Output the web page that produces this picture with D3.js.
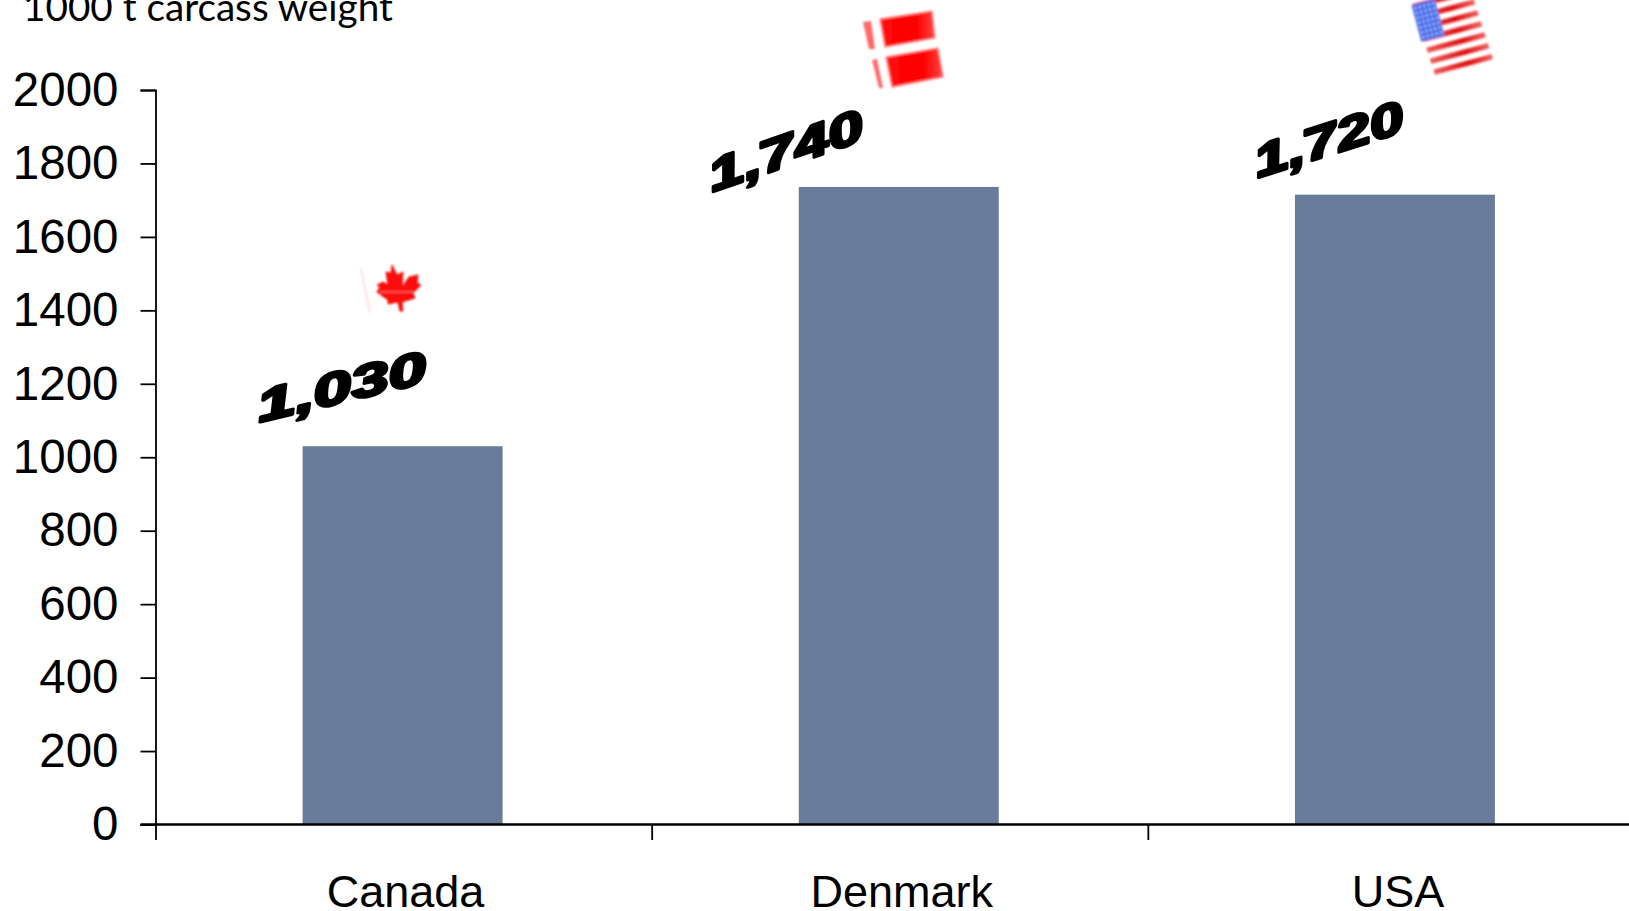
<!DOCTYPE html>
<html>
<head>
<meta charset="utf-8">
<script src="https://cdn.jsdelivr.net/npm/d3@7/dist/d3.min.js"></script>
<style>
html, body { margin: 0; padding: 0; background: #fff; overflow: hidden; }
svg { display: block; }
</style>
</head>
<body>
<svg></svg>
<script>
var width = 1629;
var height = 911;

var categories = ["Canada", "Denmark", "USA"];
// bar heights, the printed labels round them
var values = [1030, 1736, 1715];
var valueLabels = ["1,030", "1,740", "1,720"];
var yTicks = [0, 200, 400, 600, 800, 1000, 1200, 1400, 1600, 1800, 2000];
var yTitle = "1000 t carcass weight";

// wordart label placement relative to the top left corner of each bar
var labelDx = [-44, -87, -38];
var labelDy = [-24, 5, -17];
var labelAngle = [-13.5, -19, -17.5];
var labelStretch = [1.54, 1.44, 1.38];

var left = 155.5, right = 1644, top_ = 90, bottom = 824.5;

var xScale = d3.scaleBand()
    .domain(categories)
    .range([left, right])
    .paddingInner(0.597)
    .paddingOuter(0.2985);

var xGroups = d3.scaleBand()
    .domain(categories)
    .range([left, right]);

var yScale = d3.scaleLinear()
    .domain([0, 2000])
    .range([bottom, top_]);

var svg = d3.select("svg")
    .attr("width", width)
    .attr("height", height);

var defs = svg.append("defs");
var fade = defs.append("linearGradient").attr("id", "redFade");
fade.append("stop").attr("offset", "0%").attr("stop-color", "#ff0a0a");
fade.append("stop").attr("offset", "65%").attr("stop-color", "#ff0000");
fade.append("stop").attr("offset", "100%").attr("stop-color", "#ff4444");
var stripeFade = defs.append("linearGradient").attr("id", "stripeFade");
stripeFade.append("stop").attr("offset", "0%").attr("stop-color", "#ee5a5a");
stripeFade.append("stop").attr("offset", "60%").attr("stop-color", "#dd1010");
stripeFade.append("stop").attr("offset", "100%").attr("stop-color", "#ee6060");
defs.append("filter").attr("id", "soft")
    .append("feGaussianBlur").attr("stdDeviation", 0.8);

//bars
svg.selectAll("rect.bar")
    .data(categories)
    .enter()
    .append("rect")
    .attr("class", "bar")
    .attr("x", d => xScale(d) - 1)
    .attr("y", (d, i) => yScale(values[i]))
    .attr("width", xScale.bandwidth())
    .attr("height", (d, i) => bottom - yScale(values[i]))
    .attr("fill", "#697b9b");

//y axis
var yAxis = d3.axisLeft(yScale)
    .tickValues(yTicks)
    .tickFormat(d3.format("d"))
    .tickSize(15)
    .tickPadding(22);

var yG = svg.append("g")
    .attr("transform", "translate(" + left + ",0)")
    .call(yAxis);

yG.select(".domain").attr("stroke", "#000").attr("stroke-width", 1.8);
yG.selectAll(".tick line").attr("stroke", "#000").attr("stroke-width", 1.8);
yG.selectAll(".tick text")
    .attr("font-family", "'Liberation Sans', Arial, sans-serif")
    .attr("font-size", 47.5)
    .attr("fill", "#000");

//x axis, ticks sit on the group boundaries
var xAxisG = svg.append("g");

xAxisG.append("line")
    .attr("x1", left - 15)
    .attr("x2", width)
    .attr("y1", bottom)
    .attr("y2", bottom)
    .attr("stroke", "#000")
    .attr("stroke-width", 2.6);

xAxisG.selectAll("line.tick")
    .data(categories)
    .enter()
    .append("line")
    .attr("class", "tick")
    .attr("x1", d => xGroups(d) + 0.5)
    .attr("x2", d => xGroups(d) + 0.5)
    .attr("y1", bottom)
    .attr("y2", bottom + 15.5)
    .attr("stroke", "#000")
    .attr("stroke-width", 1.8);

xAxisG.selectAll("text")
    .data(categories)
    .enter()
    .append("text")
    .attr("x", d => xGroups(d) + xGroups.bandwidth() / 2 + 2)
    .attr("y", 907)
    .attr("text-anchor", "middle")
    .attr("font-family", "'Liberation Sans', Arial, sans-serif")
    .attr("font-size", 45)
    .attr("fill", "#000")
    .text(d => d);

//unit label, cut off by the top of the page
svg.append("text")
    .attr("x", 23)
    .attr("y", 20.5)
    .attr("font-family", "Lato, 'Open Sans', sans-serif")
    .attr("font-size", 38.7)
    .attr("fill", "#000")
    .text(yTitle);

//wordart value labels
svg.selectAll("text.value")
    .data(valueLabels)
    .enter()
    .append("text")
    .attr("class", "value")
    .attr("transform", function (d, i) {
        var bx = xScale(categories[i]) + labelDx[i];
        var by = yScale(values[i]) + labelDy[i];
        return "translate(" + bx + "," + by + ") rotate(" + labelAngle[i] + ") skewX(-4) scale(" + labelStretch[i] + ",1)";
    })
    .attr("font-family", "'Liberation Sans', Arial, sans-serif")
    .attr("font-weight", "bold")
    .attr("font-style", "italic")
    .attr("font-size", 45)
    .attr("fill", "#000")
    .attr("stroke", "#000")
    .attr("stroke-width", 3)
    .attr("stroke-linejoin", "round")
    .text(d => d);

//canada flag
var canada = svg.append("g").attr("filter", "url(#soft)");
canada.append("line")
    .attr("x1", 361).attr("y1", 268).attr("x2", 370).attr("y2", 313)
    .attr("stroke", "#ffd8d8").attr("stroke-width", 1.6);
canada.append("polygon")
    .attr("fill", "#fb0a0a")
    .attr("stroke", "#fb0a0a")
    .attr("stroke-width", 1)
    .attr("points", "392,265 397,275 403,272 402,287 409,277 418,275 417,283 421,285 413,293 415,298 402,302 403,311 400,311 398,302 388,304 388,300 377,292 380,287 377,285 383,282 388,285 386,272 391,273");
canada.append("line")
    .attr("x1", 380).attr("y1", 292).attr("x2", 414).attr("y2", 292)
    .attr("stroke", "#ffb0b0").attr("stroke-width", 0.8);

//denmark flag
var denmark = svg.append("g").attr("filter", "url(#soft)");
denmark.append("polygon").attr("fill", "url(#redFade)").attr("stroke", "#ff8a8a").attr("stroke-width", 1.5).attr("points", "880,19 932,11 935,38 885,47");
denmark.append("polygon").attr("fill", "url(#redFade)").attr("stroke", "#ff8a8a").attr("stroke-width", 1.5).attr("points", "886,57 938,48 943,77 892,87");
denmark.append("polygon").attr("fill", "#ff6a6a").attr("points", "863,22 871,21 875,49 869,49");
denmark.append("polygon").attr("fill", "#ff6a6a").attr("points", "872,60 877,59 883,88 879,88");

//usa flag
var stripes = d3.range(13);
var usa = svg.append("g")
    .attr("filter", "url(#soft)")
    .attr("transform", "translate(1412,7) rotate(-15)");
usa.selectAll("rect.stripe")
    .data(stripes.filter(d => d % 2 === 0))
    .enter()
    .append("rect")
    .attr("class", "stripe")
    .attr("x", d => 1 + d * 0.3)
    .attr("y", d => d * 5.75 - 3)
    .attr("width", 60)
    .attr("height", 5.4)
    .attr("fill", "url(#stripeFade)");
usa.append("rect")
    .attr("x", 0).attr("y", -2)
    .attr("width", 24).attr("height", 38)
    .attr("fill", "#4a70ea");
usa.selectAll("circle")
    .data(d3.cross(d3.range(5), d3.range(7)))
    .enter()
    .append("circle")
    .attr("cx", d => 3 + d[0] * 4.6)
    .attr("cy", d => 2 + d[1] * 5)
    .attr("r", 0.9)
    .attr("fill", "#dfe8ff");
</script>
</body>
</html>
